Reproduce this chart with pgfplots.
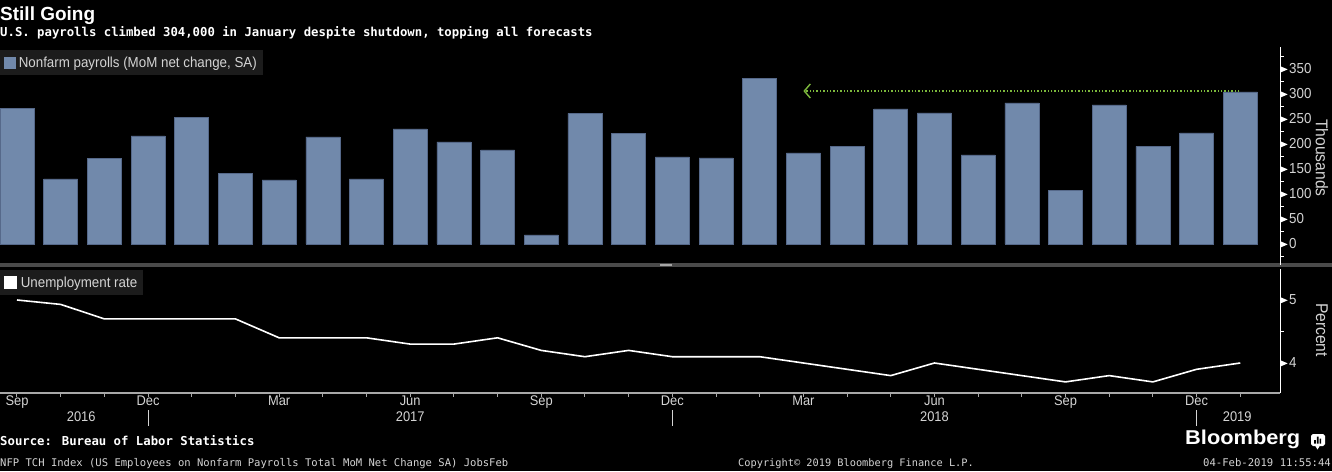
\documentclass[border=0pt]{standalone}
\usepackage{fontspec}
\setmainfont{Liberation Sans}
\newfontfamily\nf[FakeStretch=0.92]{Liberation Sans}
\newfontfamily\logofont[FakeStretch=1.09]{Liberation Sans}
\newfontfamily\mono{DejaVu Sans Mono}
\usepackage{pgfplots}
\pgfplotsset{compat=1.18}
\usetikzlibrary{arrows.meta}
\definecolor{barblue}{HTML}{7189AB}
\definecolor{baredge}{HTML}{56698A}
\definecolor{leggray}{HTML}{1C1C1C}
\definecolor{txtgray}{HTML}{D4D4D4}
\definecolor{sepgray}{HTML}{4A4A4A}
\definecolor{axgray}{HTML}{A8A8A8}
\definecolor{arrowgreen}{HTML}{7CB83C}
\newcommand\tri{\tikz[baseline=-0.6ex]\fill[white] (0pt,-3.2pt)--(7.5pt,0pt)--(0pt,3.2pt)--cycle;}
\begin{document}
\begin{tikzpicture}[x=1pt,y=1pt]
\useasboundingbox (0,0) rectangle (1332,471);
\fill[black] (0,0) rectangle (1332,471);
% titles
\node[anchor=base west, inner sep=0, text=white, font=\fontsize{19}{22}\selectfont\bfseries] at (0,450) {Still Going};
\node[anchor=base west, inner sep=0, text=white, font=\mono\bfseries\fontsize{12.3}{14}\selectfont] at (0,434) {U.S. payrolls climbed 304,000 in January despite shutdown, topping all forecasts};
% separator
\fill[sepgray] (0,204) rectangle (1332,208);
\draw[gray!70, line width=0.6pt] (660,205.2) -- (672,205.2) (660,206.8) -- (672,206.8);
% footer
\node[anchor=base west, inner sep=0, text=white, font=\mono\bfseries\fontsize{12.3}{14}\selectfont] at (0,26) {Source: Bureau of Labor Statistics};
\node[anchor=base west, inner sep=0, text=txtgray, font=\mono\fontsize{10.55}{12}\selectfont] at (0,5) {NFP TCH Index (US Employees on Nonfarm Payrolls Total MoM Net Change SA) JobsFeb};
\node[anchor=base west, inner sep=0, text=txtgray, font=\mono\fontsize{10.3}{12}\selectfont] at (738,5) {Copyright© 2019 Bloomberg Finance L.P.};
\node[anchor=base east, inner sep=0, text=txtgray, font=\mono\fontsize{10.6}{12}\selectfont] at (1331,5) {04-Feb-2019 11:55:44};
\node[anchor=base west, inner sep=0, text=white, font=\logofont\bfseries\fontsize{20}{22}\selectfont] at (1185,27) {Bloomberg};
\fill[white, rounded corners=1.8pt] (1311,25) rectangle (1325,37);
\fill[white] (1315,25.5) -- (1317.5,21.5) -- (1320,25.5) -- cycle;
\fill[black] (1314.2,27.5) rectangle (1315.8,31) (1316.9,27.5) rectangle (1318.5,34.5) (1319.6,27.5) rectangle (1321.2,32.5);

% ---------- top panel: payrolls ----------
\begin{axis}[
  at={(0pt,206pt)}, anchor=south west, scale only axis, width=1280pt, height=218pt,
  xmin=-0.389, xmax=28.91, ymin=-42, ymax=394,
  hide x axis, axis y line*=right,
  y axis line style={white, line width=1pt, -},
  ytick={0,50,...,350}, minor ytick={-25,25,75,125,175,225,275,325,375},
  major tick length=0pt, minor tick length=3.5pt, tick align=outside,
  minor tick style={white, line width=0.8pt},
  /pgf/number format/assume math mode=true,
  yticklabel={\tri\hspace{1.5pt}\pgfmathprintnumber{\tick}},
  yticklabel style={anchor=west, inner sep=0pt, text=txtgray, font=\nf\fontsize{14.5}{14.5}\selectfont},
  clip=false,
  legend style={at={(0,1)}, yshift=-3pt, anchor=north west, fill=leggray, draw=none, text=txtgray,
    font=\nf\fontsize{14.5}{16}\selectfont, inner xsep=4pt, inner ysep=4.5pt},
  legend image code/.code={\fill[barblue] (3pt,-5.5pt) rectangle (14pt,5.5pt);},
]
\addplot[ybar, bar width=34pt, fill=barblue, draw=baredge, line width=0.6pt] coordinates {
 (0,271) (1,130) (2,171) (3,216) (4,253) (5,141) (6,128) (7,214) (8,130) (9,230)
 (10,204) (11,188) (12,18) (13,261) (14,221) (15,174) (16,172) (17,331) (18,182) (19,195)
 (20,270) (21,262) (22,178) (23,282) (24,107) (25,278) (26,195) (27,222) (28,304)};
\addlegendentry{\hspace{1pt}Nonfarm payrolls (MoM net change, SA)}
\addplot[forget plot, arrowgreen, line width=1.4pt, dotted, -{Straight Barb[length=6pt, width=14pt]}] coordinates {(27.98,306) (18,306)};
\node[rotate=-90, text=txtgray, font=\nf\fontsize{17}{17}\selectfont] at (rel axis cs:1.0328,0.491) {Thousands};
\end{axis}

% ---------- bottom panel: unemployment ----------
\begin{axis}[
  at={(0pt,78pt)}, anchor=south west, scale only axis, width=1280pt, height=124pt,
  xmin=-0.389, xmax=28.91, ymin=3.524, ymax=5.492,
  axis x line*=bottom, axis y line*=right,
  x axis line style={axgray, line width=2pt, -},
  y axis line style={white, line width=1pt, -},
  ytick={4,5}, minor ytick={4.5},
  xtick={0,3,...,27}, xticklabels={Sep,Dec,Mar,Jun,Sep,Dec,Mar,Jun,Sep,Dec},
  minor xtick={0,...,28},
  extra x ticks={1.47,9,21,27.93}, extra x tick labels={2016,2017,2018,2019},
  extra x tick style={major tick length=0pt, xticklabel style={yshift=-16pt}},
  major tick length=0pt, minor tick length=3.5pt, tick align=outside,
  minor x tick style={axgray, line width=1pt},
  minor y tick style={white, line width=0.8pt},
  /pgf/number format/assume math mode=true,
  yticklabel={\tri\hspace{1.5pt}\pgfmathprintnumber{\tick}},
  yticklabel style={anchor=west, inner sep=0pt, text=txtgray, font=\nf\fontsize{14.5}{14.5}\selectfont},
  xticklabel style={text=txtgray, font=\nf\fontsize{14}{14}\selectfont, yshift=1pt},
  clip=false,
  legend style={at={(0,1)}, yshift=-1pt, anchor=north west, fill=leggray, draw=none, text=txtgray,
    font=\nf\fontsize{14.5}{16}\selectfont, inner xsep=4pt, inner ysep=4.5pt},
  legend image code/.code={\fill[white] (4pt,-5.5pt) rectangle (15pt,5.5pt);},
]
\addplot[white, line width=1.6pt] coordinates {
 (0,5.0) (1,4.93) (2,4.7) (3,4.7) (4,4.7) (5,4.7) (6,4.4) (7,4.4) (8,4.4) (9,4.3)
 (10,4.3) (11,4.4) (12,4.2) (13,4.1) (14,4.2) (15,4.1) (16,4.1) (17,4.1) (18,4.0) (19,3.9)
 (20,3.8) (21,4.0) (22,3.9) (23,3.8) (24,3.7) (25,3.8) (26,3.7) (27,3.9) (28,4.0)};
\addlegendentry{\hspace{2pt}Unemployment rate}
\draw[txtgray, line width=0.8pt] (axis cs:3,3.524) ++(0pt,-17pt) -- ++(0pt,-16pt);
\draw[txtgray, line width=0.8pt] (axis cs:15,3.524) ++(0pt,-17pt) -- ++(0pt,-16pt);
\draw[txtgray, line width=0.8pt] (axis cs:27,3.524) ++(0pt,-17pt) -- ++(0pt,-16pt);
\node[rotate=-90, text=txtgray, font=\nf\fontsize{17}{17}\selectfont] at (rel axis cs:1.0328,0.508) {Percent};
\end{axis}
\end{tikzpicture}
\end{document}
